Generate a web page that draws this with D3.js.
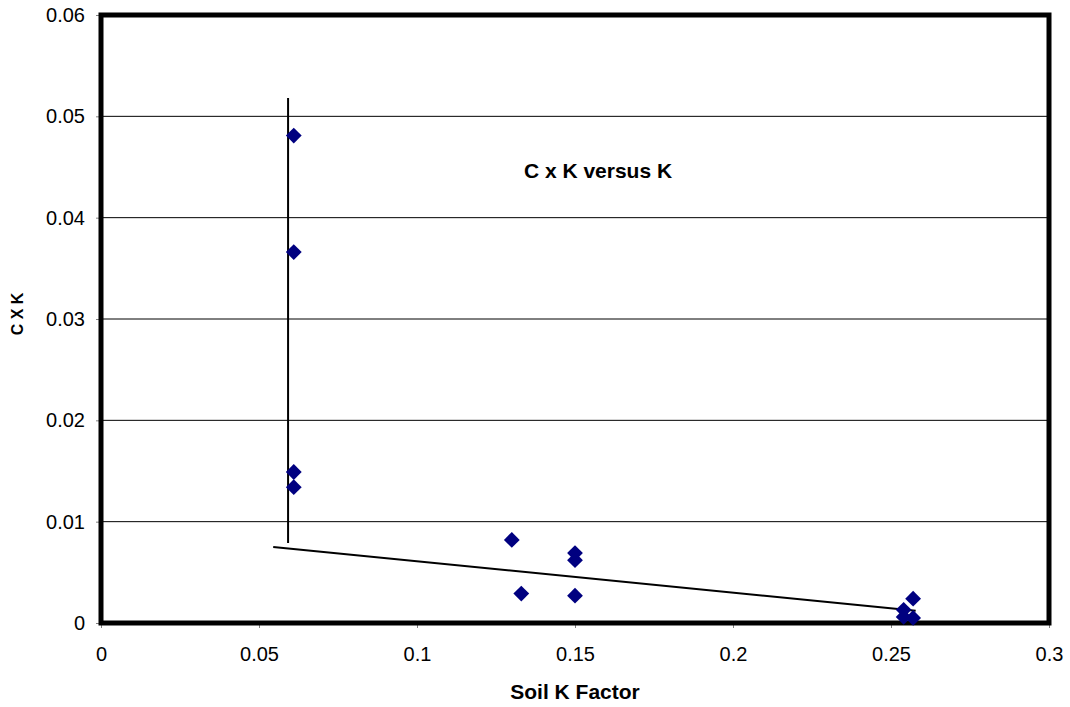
<!DOCTYPE html>
<html><head><meta charset="utf-8">
<script src="https://cdn.jsdelivr.net/npm/d3@7"></script>
<style>body{margin:0;background:#fff;font-family:"Liberation Sans",Arial,sans-serif;}</style>
</head><body><svg id="c" width="1070" height="707"></svg>
<script>
const soilK = [0.061,0.061,0.061,0.061,0.130,0.133,0.150,0.150,0.150,0.257,0.254,0.254,0.257];
const cxk   = [0.0481,0.0366,0.0149,0.0134,0.0082,0.0029,0.0069,0.0062,0.0027,0.0024,0.0013,0.0006,0.0005];
const vLineX = [0.0592,0.0592];
const vLineY = [0.0518,0.0079];
const trendX = [0.0545,0.2578];
const trendY = [0.0075,0.0012];
const xTicks = [0,0.05,0.1,0.15,0.2,0.25,0.3];
const yTicks = [0,0.01,0.02,0.03,0.04,0.05,0.06];

const svg = d3.select("#c");
const L=101,R=1049,T=15,B=623;
const x = d3.scaleLinear().domain([0,0.3]).range([L,R]);
const y = d3.scaleLinear().domain([0,0.06]).range([B,T]);

// gridlines
svg.append("g").selectAll("line").data(yTicks.slice(1,-1)).join("line")
  .attr("x1",L).attr("x2",R).attr("y1",d=>y(d)).attr("y2",d=>y(d))
  .attr("stroke","#000").attr("stroke-width",1);

// axes
const fmt = d=> d===0?"0":String(+d.toFixed(2));
const xa = svg.append("g").attr("transform",`translate(0,${B})`)
  .call(d3.axisBottom(x).tickValues(xTicks).tickFormat(fmt).tickSize(5).tickPadding(19));
const ya = svg.append("g").attr("transform",`translate(${L},0)`)
  .call(d3.axisLeft(y).tickValues(yTicks).tickFormat(fmt).tickSize(5).tickPadding(11));
[xa,ya].forEach(a=>{
  a.select(".domain").remove();
  a.selectAll("line").attr("stroke","#808080");
  a.selectAll("text").attr("font-size",20).attr("font-family","Liberation Sans, Arial, sans-serif").attr("fill","#000");
});

// plot border
svg.append("rect").attr("x",L).attr("y",T).attr("width",R-L).attr("height",B-T)
  .attr("fill","none").attr("stroke","#000").attr("stroke-width",5);

// lines
const line = d3.line().x(d=>x(d[0])).y(d=>y(d[1]));
svg.append("path").attr("d",line(d3.zip(vLineX,vLineY))).attr("stroke","#000").attr("stroke-width",2).attr("fill","none");
svg.append("path").attr("d",line(d3.zip(trendX,trendY))).attr("stroke","#000").attr("stroke-width",2).attr("fill","none");

// points
const sym = d3.symbol().type(d3.symbolSquare).size(125);
svg.append("g").selectAll("path").data(d3.zip(soilK,cxk)).join("path")
  .attr("d",sym).attr("transform",d=>`translate(${x(d[0])},${y(d[1])}) rotate(45)`)
  .attr("fill","#000080");

// texts
svg.append("text").attr("x",598).attr("y",178).attr("text-anchor","middle")
  .attr("font-size",21).attr("font-weight","bold").text("C x K versus K");
svg.append("text").attr("x",575).attr("y",699).attr("text-anchor","middle")
  .attr("font-size",21).attr("font-weight","bold").text("Soil K Factor");
svg.append("text").attr("transform","translate(23,314) rotate(-90)").attr("text-anchor","middle")
  .attr("font-size",16).attr("font-weight","bold").text("C X K");
</script></body></html>
